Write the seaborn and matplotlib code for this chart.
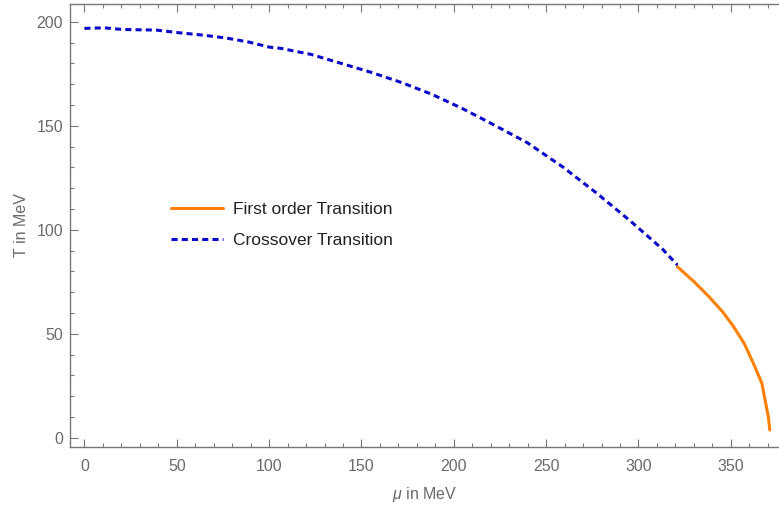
import matplotlib
matplotlib.use("Agg")
import matplotlib.pyplot as plt
import seaborn as sns
import pandas as pd
from matplotlib.ticker import MultipleLocator

# Data
mu_cross = [0, 6.4, 11.8, 20.6, 38.9, 51.5, 63.9, 76.7, 89.3, 100.2, 106.5, 122.7, 139.0,
            155.2, 172.0, 188.2, 204.4, 219.2, 239.9, 259.3, 277.5, 295.5, 313.0, 321.1]
T_cross = [196.8, 197.0, 197.0, 196.3, 196.0, 194.7, 193.6, 192.2, 190.2, 187.8, 187.2, 184.3,
           180.0, 175.7, 170.7, 165.1, 158.4, 151.6, 141.8, 130.0, 117.5, 104.3, 90.7, 83.0]
mu_first = [321.1, 330.1, 338.2, 345.5, 350.9, 357.2, 362.6, 366.8, 368.9, 370.3, 371.1]
T_first = [82.2, 75.0, 67.8, 60.6, 54.2, 45.4, 35.0, 26.2, 16.5, 10.1, 3.7]
label_first = "First order Transition"
label_cross = "Crossover Transition"
xlabel = "$\\mu$ in MeV"
ylabel = "T in MeV"

sns.set_theme(style="ticks")
plt.rcParams["font.family"] = ["Liberation Sans", "DejaVu Sans"]
plt.rcParams["mathtext.fontset"] = "custom"
plt.rcParams["mathtext.it"] = "Liberation Sans:italic"
plt.rcParams["mathtext.rm"] = "Liberation Sans"

gray = "#777777"
txt = "#6a6a6a"

df_first = pd.DataFrame({"mu": mu_first, "T": T_first})
df_cross = pd.DataFrame({"mu": mu_cross, "T": T_cross})

fig = plt.figure(figsize=(7.79, 5.09), dpi=100)
ax = fig.add_axes([70 / 779, 1 - 446.7 / 509, 1 - 70 / 779 + 0.001, (446.7 - 4.3) / 509])

sns.lineplot(data=df_first, x="mu", y="T", ax=ax, sort=False, estimator=None,
             color="#FF8000", linewidth=2.2, label=label_first)
sns.lineplot(data=df_cross, x="mu", y="T", ax=ax, sort=False, estimator=None,
             color="#0a0ac8", linewidth=2.2, linestyle=(0, (2.0, 1.35)), label=label_cross)

ax.set_xlim(-7.8, 376.5)
ax.set_ylim(-4.3, 208.4)

ax.xaxis.set_major_locator(MultipleLocator(50))
ax.xaxis.set_minor_locator(MultipleLocator(10))
ax.yaxis.set_major_locator(MultipleLocator(50))
ax.yaxis.set_minor_locator(MultipleLocator(10))

for side in ["left", "bottom", "top"]:
    ax.spines[side].set_color(gray)
    ax.spines[side].set_linewidth(1.0)
ax.spines["right"].set_visible(False)

ax.tick_params(axis="both", which="both", direction="in", color=gray, width=0.8,
               top=True, right=False, labelsize=11.5, labelcolor=txt)
ax.tick_params(axis="both", which="major", length=6)
ax.tick_params(axis="x", which="major", pad=9)
ax.tick_params(axis="y", which="major", pad=5)
ax.tick_params(axis="both", which="minor", length=3)
ax.tick_params(axis="x", which="both", labeltop=False)

ax.set_xlabel(xlabel, fontsize=11.5, color=txt, labelpad=8)
ax.set_ylabel(ylabel, fontsize=11.5, color=txt, labelpad=5)

leg = ax.legend(loc="upper left", bbox_to_anchor=(171 / 779, 1 - 202 / 509),
                bbox_transform=fig.transFigure, frameon=False, fontsize=12.5,
                handlelength=3.0, handletextpad=0.58, labelspacing=0.92, borderpad=0,
                borderaxespad=0)
for t in leg.get_texts():
    t.set_color("#222222")

fig.savefig("out.png", dpi=100)
